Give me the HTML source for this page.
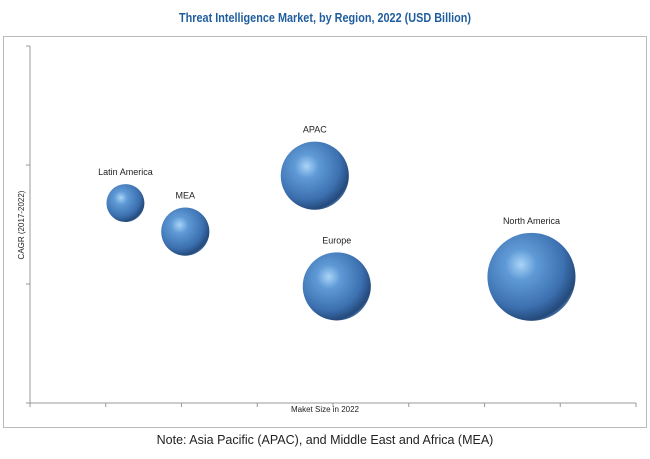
<!DOCTYPE html>
<html><head><meta charset="utf-8"><style>
body{margin:0;width:650px;height:454px;background:#fff;overflow:hidden;font-family:"Liberation Sans",sans-serif}
</style></head><body>
<svg width="650" height="454" xmlns="http://www.w3.org/2000/svg">
<defs>
<radialGradient id="g" cx="0.38" cy="0.36" r="0.7">
<stop offset="0" stop-color="#a9d4f7"/>
<stop offset="0.25" stop-color="#5f9ad6"/>
<stop offset="0.7" stop-color="#3c70b0"/>
<stop offset="0.92" stop-color="#24497a"/>
<stop offset="1" stop-color="#5b86b8"/>
</radialGradient>
</defs>
<text x="325" y="22" text-anchor="middle" font-size="12.5" font-weight="bold" fill="#1f5e9e" textLength="292" lengthAdjust="spacingAndGlyphs">Threat Intelligence Market, by Region, 2022 (USD Billion)</text>
<rect x="3.5" y="36.5" width="643" height="391" fill="none" stroke="#bbb"/>
<g id="axes"></g>
<g id="marks"></g>
<text x="325" y="412" text-anchor="middle" font-size="8" fill="#222">Maket Size in 2022</text>
<text transform="translate(24,225) rotate(-90)" text-anchor="middle" font-size="8" fill="#222">CAGR (2017-2022)</text>
<text x="325" y="444" text-anchor="middle" font-size="12.5" fill="#222">Note: Asia Pacific (APAC), and Middle East and Africa (MEA)</text>
</svg>
<script>
const regions=["Latin America","MEA","APAC","Europe","North America"];
const marketSize=[1.26,2.05,3.76,4.05,6.62];
const cagr=[1.68,1.44,1.91,0.98,1.06];
const bubbleSize=[3.6,5.8,11.6,11.6,19.4];
const xTicks=[0,1,2,3,4,5,6,7,8];
const yTicks=[0,1,2,3];
const NS="http://www.w3.org/2000/svg";
const X0=30,X1=636,Y0=403,Y1=46;
const xs=v=>X0+(X1-X0)*v/8;
const ys=v=>Y0-(Y0-Y1)*v/3;
const rs=s=>10*Math.sqrt(s);
function mk(t,a,p){const e=document.createElementNS(NS,t);for(const k in a)e.setAttribute(k,a[k]);p.appendChild(e);return e;}
const ax=document.getElementById('axes');
const ya=mk('line',{x1:X0,y1:Y1,x2:X0,y2:Y0,stroke:'#999'},ax);


const xa=mk('line',{x1:X0,y1:Y0,x2:X1,y2:Y0,stroke:'#999'},ax);


xTicks.forEach(t=>{const l=mk('line',{x1:xs(t),y1:Y0,x2:xs(t),y2:Y0+4,stroke:'#999'},ax);

});
yTicks.forEach(t=>{const l=mk('line',{x1:X0-4,y1:ys(t),x2:X0,y2:ys(t),stroke:'#999'},ax);

});
const mg=document.getElementById('marks');
regions.forEach((n,i)=>{
const cx=xs(marketSize[i]),cy=ys(cagr[i]),r=rs(bubbleSize[i]);
const c=mk('circle',{cx:cx,cy:cy,r:r,fill:'url(#g)'},mg);


const t=mk('text',{x:cx,y:cy-r-9,'text-anchor':'middle','font-size':'9',fill:'#222'},mg);
t.textContent=n;


});
</script>
</body></html>
